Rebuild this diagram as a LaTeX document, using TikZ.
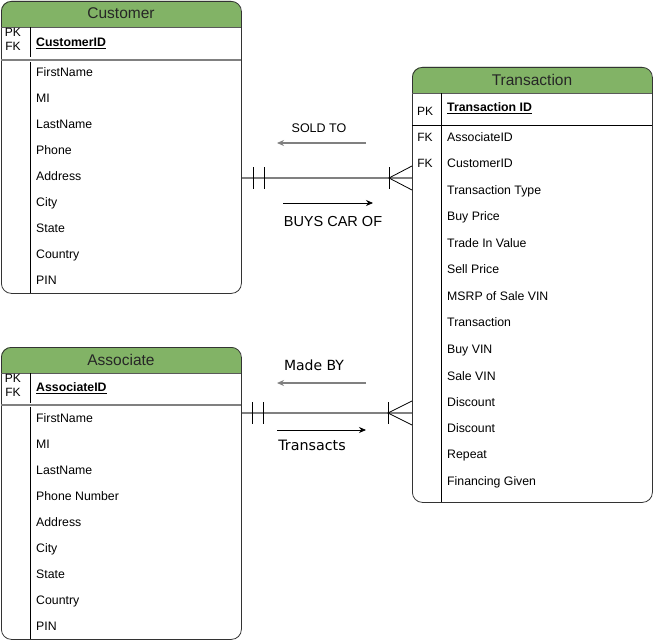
\documentclass[tikz,border=0pt]{standalone}
\usepackage{fontspec}
\setmainfont{Liberation Sans}
\newfontfamily\verd{DejaVu Sans}
\usetikzlibrary{arrows.meta}
\definecolor{hdr}{HTML}{82B366}
\definecolor{hdrline}{HTML}{5A5A5A}
\definecolor{linegray}{HTML}{808080}
\tikzset{
  tablebox/.style={draw=black!80, line width=0.8pt, rounded corners=10pt, inner sep=0pt, anchor=north west},
  hdrtext/.style={font=\fontsize{15.5}{17}\selectfont, text=black!85, text height=12pt, text depth=2pt, inner sep=0pt},
  rowtext/.style={font=\fontsize{12.3}{14}\selectfont, anchor=west, inner sep=0pt, text height=10pt, text depth=1.5pt},
  keytext/.style={font=\fontsize{12}{14}\selectfont, anchor=center, inner sep=0pt, text height=10pt, text depth=1.5pt},
  relline/.style={draw=linegray, line width=1.8pt},
  tickmark/.style={draw=black, line width=0.8pt},
  labtext/.style={inner sep=0pt, text height=10pt, text depth=1pt},
  grayarrow/.style={draw=linegray, line width=2pt, -{Stealth[length=7pt,width=6pt]}},
  blackarrow/.style={draw=black, line width=0.8pt, -{Stealth[length=7pt,width=6pt]}}
}
\begin{document}
\begin{tikzpicture}[x=1pt,y=-1pt]
\useasboundingbox (0,0) rectangle (653,642);
% ---------------- Customer ----------------
\fill[hdr] (1,27) [rounded corners=10pt]-- (1,1) -- (241,1) [sharp corners]-- (241,27) -- cycle;
\node[tablebox, minimum width=240pt, minimum height=292pt] (cust) at (1,1) {};
\draw[hdrline, line width=0.8pt] (1,27) -- (241,27);
\node[hdrtext] (custh) at (121,14) {Customer};
\draw[black, line width=0.8pt] (30,27) -- (30,57);
\draw[black, line width=0.8pt] (30,62) -- (30,293);
\draw[linegray, line width=1.6pt] (1,60) -- (241,60);
\node[keytext] (cpk) at (13,32) {PK};
\node[keytext] (cfk) at (13,46) {FK};
\node[rowtext] (cid) at (36,42) {\underline{\textbf{CustomerID}}};
\foreach \t [count=\i from 0] in {FirstName,MI,LastName,Phone,Address,City,State,Country,PIN}
  \node[rowtext] (c\i) at (36,72+26*\i) {\t};
% ---------------- Associate ----------------
\fill[hdr] (1,373) [rounded corners=10pt]-- (1,347) -- (241,347) [sharp corners]-- (241,373) -- cycle;
\node[tablebox, minimum width=240pt, minimum height=292pt] (assoc) at (1,347) {};
\draw[hdrline, line width=0.8pt] (1,373) -- (241,373);
\node[hdrtext] (assoch) at (121,360) {Associate};
\draw[black, line width=0.8pt] (30,373) -- (30,403);
\draw[black, line width=0.8pt] (30,407) -- (30,639);
\draw[linegray, line width=1.6pt] (1,405) -- (241,405);
\node[keytext] (apk) at (13,378) {PK};
\node[keytext] (afk) at (13,392) {FK};
\node[rowtext] (aid) at (36,387) {\underline{\textbf{AssociateID}}};
\foreach \t [count=\i from 0] in {FirstName,MI,LastName,Phone Number,Address,City,State,Country,PIN}
  \node[rowtext] (a\i) at (36,418+26*\i) {\t};
% ---------------- Transaction ----------------
\fill[hdr] (412,93) [rounded corners=10pt]-- (412,67) -- (652,67) [sharp corners]-- (652,93) -- cycle;
\node[tablebox, minimum width=240pt, minimum height=435pt] (trans) at (412,67) {};
\draw[hdrline, line width=0.8pt] (412,93) -- (652,93);
\node[hdrtext] (transh) at (532,80) {Transaction};
\draw[black, line width=0.8pt] (441,93) -- (441,502);
\draw[black, line width=0.8pt] (412,125) -- (652,125);
\node[keytext] (tpk) at (425,111) {PK};
\node[rowtext] (tid) at (447,107) {\underline{\textbf{Transaction ID}}};
\node[keytext] (tfk1) at (425,137) {FK};
\node[keytext] (tfk2) at (425,163) {FK};
\foreach \t/\y [count=\i from 0] in {AssociateID/137,CustomerID/163,Transaction Type/190,Buy Price/216,Trade In Value/243,Sell Price/269,MSRP of Sale VIN/296,Transaction/322,Buy VIN/349,Sale VIN/376,Discount/402,Discount/428,Repeat/454,Financing Given/481}
  \node[rowtext] (t\i) at (447,\y) {\t};
% ---------------- Relation Customer - Transaction ----------------
\coordinate (r1a) at (cust.east |- 0,178);
\coordinate (r1b) at (trans.west |- 0,178);
\draw[relline] (r1a) -- (r1b);
\draw[tickmark] (253,167) -- (253,189);
\draw[tickmark] (264,167) -- (264,189);
\draw[tickmark] (389,167) -- (389,189);
\draw[tickmark] (trans.west |- 0,166) -- (389,178) -- (trans.west |- 0,190);
\coordinate (s1) at (366,143);
\coordinate (s2) at (277,143);
\draw[grayarrow] (s1) -- (s2);
\node[labtext, font=\fontsize{12.5}{14}\selectfont] (soldto) at (319,128) {SOLD TO};
\coordinate (b1) at (283,203);
\coordinate (b2) at (373,203);
\draw[blackarrow] (b1) -- (b2);
\node[labtext, font=\fontsize{14.5}{16}\selectfont] (buys) at (333,222) {BUYS CAR OF};
% ---------------- Relation Associate - Transaction ----------------
\coordinate (r2a) at (assoc.east |- 0,413);
\coordinate (r2b) at (trans.west |- 0,413);
\draw[relline] (r2a) -- (r2b);
\draw[tickmark] (252,402) -- (252,424);
\draw[tickmark] (263,402) -- (263,424);
\draw[tickmark] (388,402) -- (388,424);
\draw[tickmark] (trans.west |- 0,401) -- (388,413) -- (trans.west |- 0,425);
\coordinate (m1) at (366,383);
\coordinate (m2) at (277,383);
\draw[grayarrow] (m1) -- (m2);
\node[labtext, font=\verd\fontsize{14}{16}\selectfont] (madeby) at (314,366) {Made BY};
\coordinate (tr1) at (277,430);
\coordinate (tr2) at (366,430);
\draw[blackarrow] (tr1) -- (tr2);
\node[labtext, font=\verd\fontsize{14.3}{16}\selectfont] (transacts) at (312,446) {Transacts};
\end{tikzpicture}
\end{document}
